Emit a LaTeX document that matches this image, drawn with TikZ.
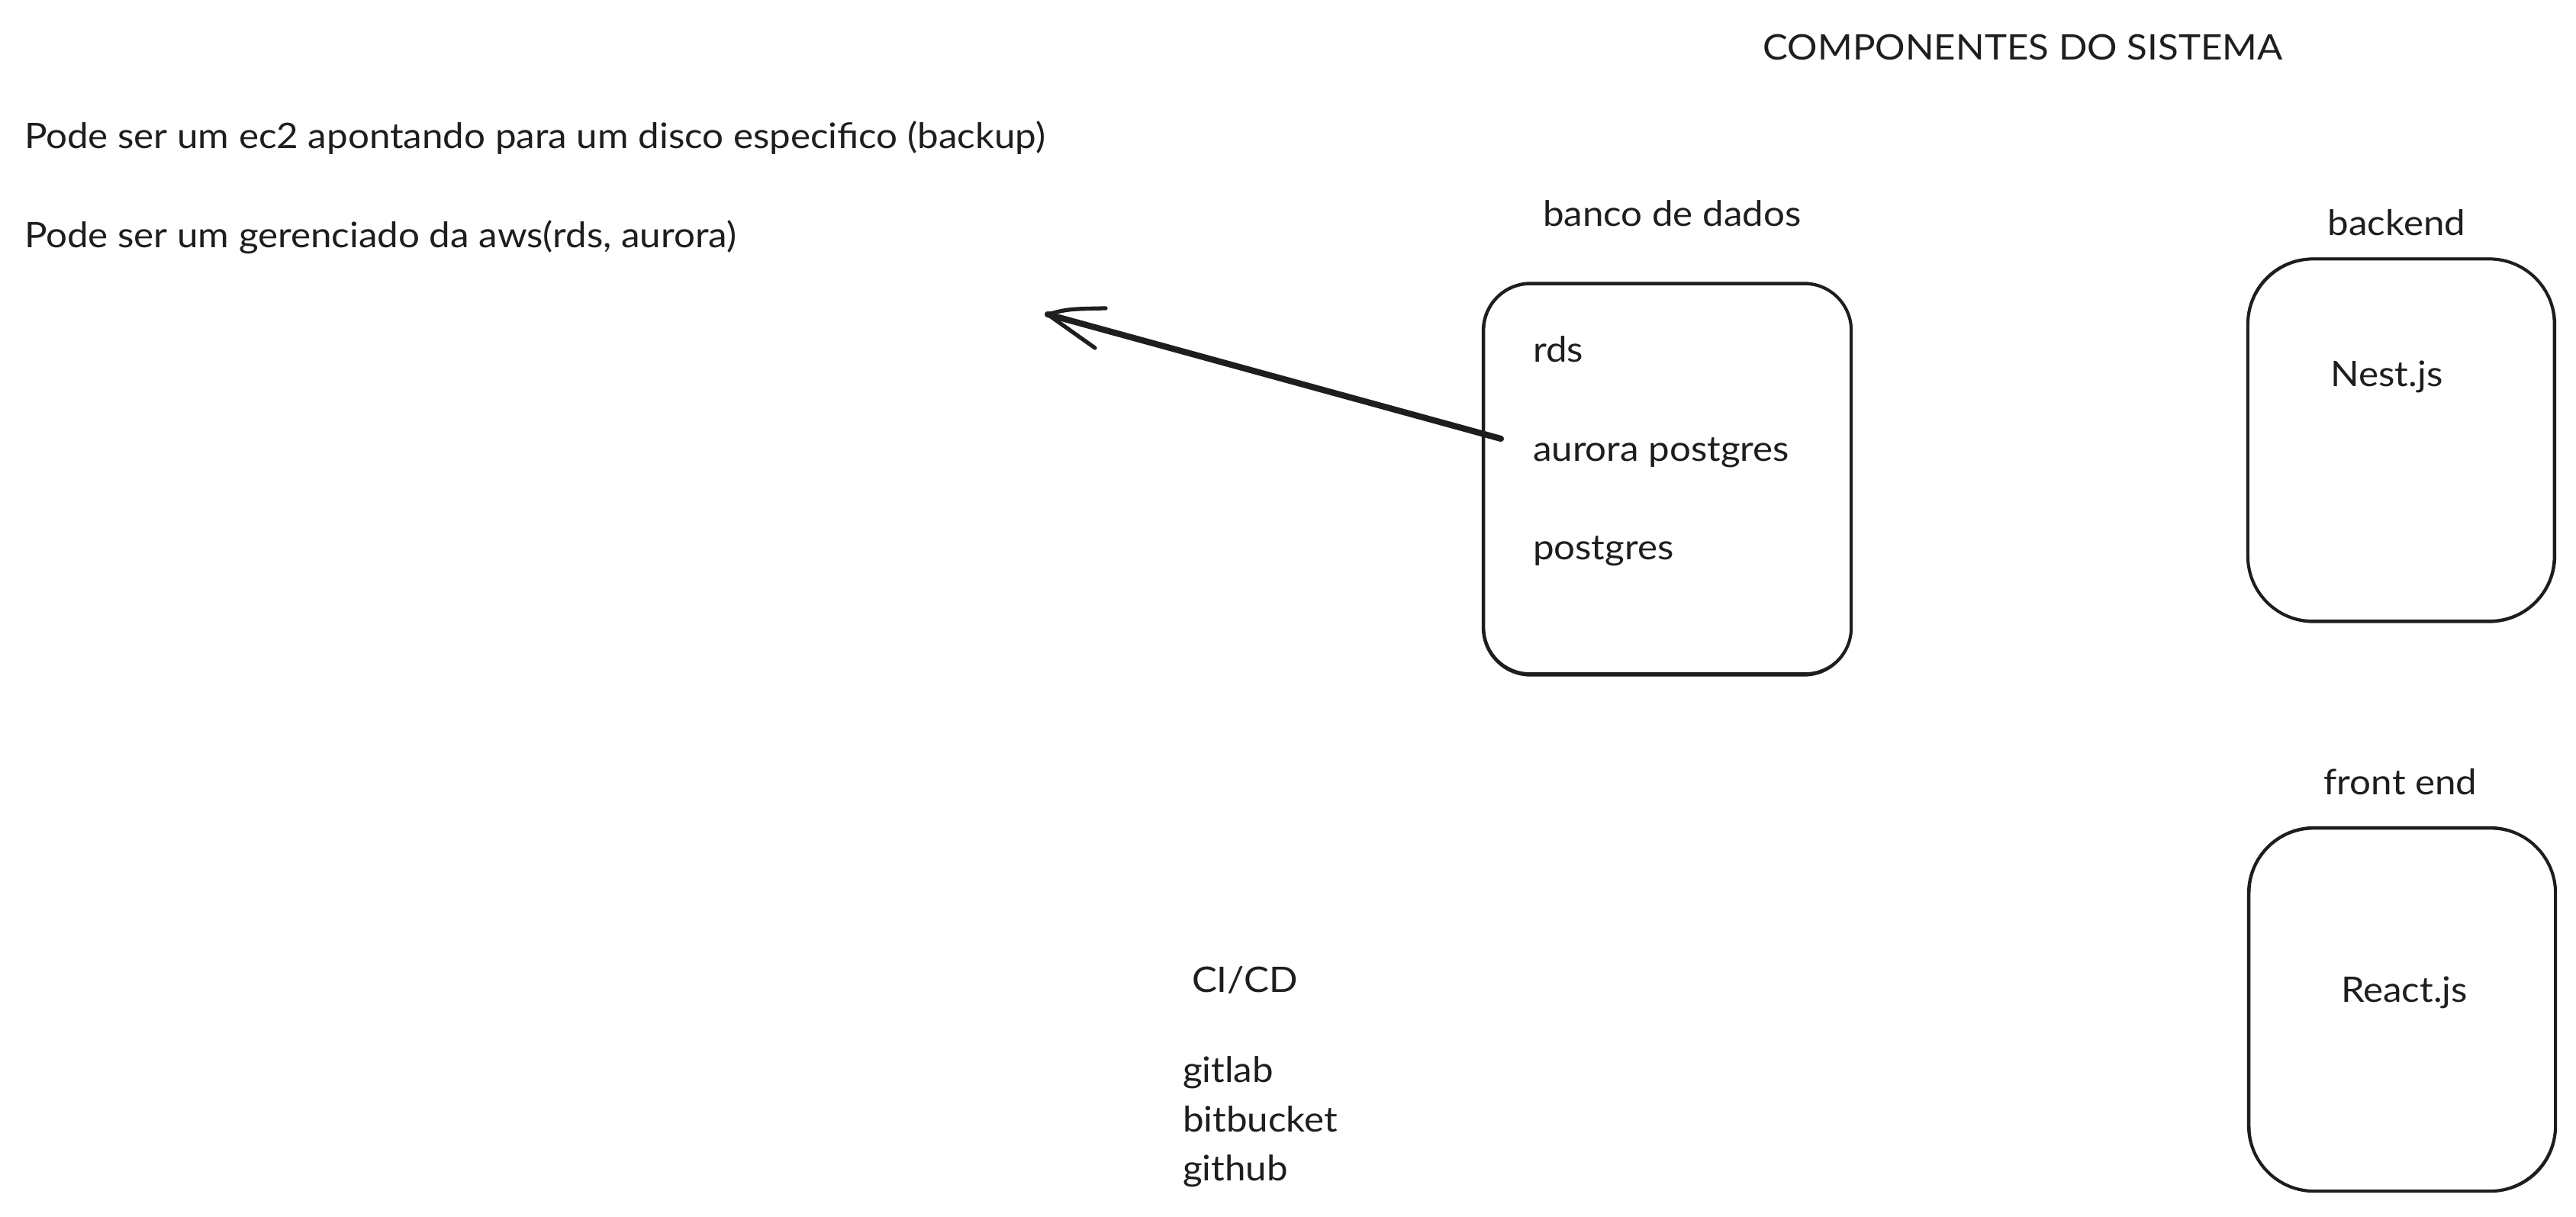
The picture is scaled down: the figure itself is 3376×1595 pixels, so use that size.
\documentclass[tikz,border=0pt]{standalone}
\usepackage{fontspec}
\setmainfont[FakeStretch=1.07]{Lato}
\definecolor{ink}{HTML}{1E1E1E}
\begin{document}
\begin{tikzpicture}[x=0.01cm,y=-0.01cm,
  txt/.style={inner sep=0pt,outer sep=0pt,text=ink,font=\fontsize{13.1}{16}\selectfont},
  lefttxt/.style={txt,anchor=base west},
  midtxt/.style={txt,anchor=base},
  sketchbox/.style={draw=ink,line width=1.15pt,inner sep=0pt},
  sketchline/.style={draw=ink,line width=0.9pt},
  shaft/.style={draw=ink,line width=2.3pt,line cap=round},
  barb/.style={draw=ink,line width=1.5pt,line cap=round}]
\useasboundingbox[fill=white] (0,0) rectangle (3376,1595);

% texts
\node[midtxt] (title) at (2651,79) {COMPONENTES DO SISTEMA};
\node[lefttxt] (note1) at (32,195) {Pode ser um ec2 apontando para um disco especifico (backup)};
\node[lefttxt] (note2) at (32,325) {Pode ser um gerenciado da aws(rds, aurora)};

% database
\node[lefttxt] (dblabel) at (2022,297) {banco de dados};
\node[sketchbox,rounded corners=0.62cm,minimum width=4.82cm,minimum height=5.13cm] (db) at (2185,628) {};
\draw[sketchline,rounded corners=0.6cm] ([shift={(3,-4)}]db.south west) rectangle ([shift={(-2,3)}]db.north east);
\node[lefttxt] (rds) at (2009,475) {rds};
\node[lefttxt] (aurora) at (2009,605) {aurora postgres};
\node[lefttxt] (pg) at (2009,734) {postgres};

% backend
\node[midtxt] (belabel) at (3141,309) {backend};
\node[sketchbox,rounded corners=0.86cm,minimum width=4.02cm,minimum height=4.75cm] (be) at (3147,577) {};
\draw[sketchline,rounded corners=0.84cm] ([shift={(2,-3)}]be.south west) rectangle ([shift={(-3,2)}]be.north east);
\node[midtxt] (nest) at (3128,507) {Nest.js};

% frontend
\node[midtxt] (felabel) at (3146,1041) {front end};
\node[sketchbox,rounded corners=0.86cm,minimum width=4.02cm,minimum height=4.76cm] (fe) at (3148,1323) {};
\draw[sketchline,rounded corners=0.84cm] ([shift={(3,-2)}]fe.south west) rectangle ([shift={(-2,3)}]fe.north east);
\node[midtxt] (react) at (3151,1313) {React.js};

% CI/CD
\node[lefttxt] (cicd) at (1562,1300) {CI/CD};
\node[lefttxt] (gitlab) at (1550,1418) {gitlab};
\node[lefttxt] (bitbucket) at (1550,1483) {bitbucket};
\node[lefttxt] (github) at (1550,1547) {github};

% arrow
\coordinate (arrS) at (1967,575);
\coordinate (arrT) at (1373,412);
\draw[shaft] (arrS) -- (arrT);
\draw[barb] (arrT) .. controls (1400,405) .. (1449,404);
\draw[barb] (arrT) -- (1435,456);
\end{tikzpicture}
\end{document}
